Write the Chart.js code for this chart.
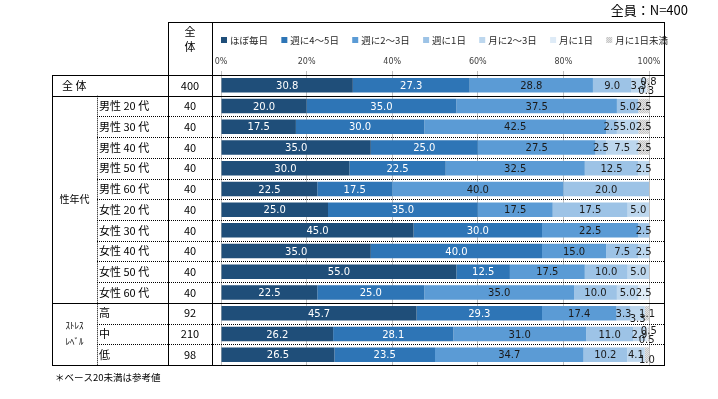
<!DOCTYPE html>
<html lang="ja">
<head>
<meta charset="utf-8">
<script src="https://cdn.jsdelivr.net/npm/chart.js@4.4.1/dist/chart.umd.min.js"></script>
<style>
  html, body { margin: 0; padding: 0; background: #fff; }
  #wrap { width: 718px; height: 399px; }
</style>
</head>
<body>
<div id="wrap"><canvas id="freqChart" width="718" height="399"></canvas></div>
<script>
// 行ラベル・n数
const categories = ['全 体', '男性 20 代', '男性 30 代', '男性 40 代', '男性 50 代', '男性 60 代',
  '女性 20 代', '女性 30 代', '女性 40 代', '女性 50 代', '女性 60 代', '高', '中', '低'];
const baseN = [400, 40, 40, 40, 40, 40, 40, 40, 40, 40, 40, 92, 210, 98];
const seriesNames = ['ほぼ毎日', '週に4～5日', '週に2～3日', '週に1日', '月に2～3日', '月に1日', '月に1日未満'];
const tickValues = [0, 20, 40, 60, 80, 100];

// 系列 (%)
const almostDaily = [30.8, 20.0, 17.5, 35.0, 30.0, 22.5, 25.0, 45.0, 35.0, 55.0, 22.5, 45.7, 26.2, 26.5];
const week4to5 = [27.3, 35.0, 30.0, 25.0, 22.5, 17.5, 35.0, 30.0, 40.0, 12.5, 25.0, 29.3, 28.1, 23.5];
const week2to3 = [28.8, 37.5, 42.5, 27.5, 32.5, 40.0, 17.5, 22.5, 15.0, 17.5, 35.0, 17.4, 31.0, 34.7];
const week1 = [9.0, 5.0, 2.5, 2.5, 12.5, 20.0, 17.5, 2.5, 7.5, 10.0, 10.0, 3.3, 11.0, 10.2];
const month2to3 = [3.3, 0, 5.0, 7.5, 2.5, 0, 5.0, 0, 2.5, 5.0, 5.0, 3.3, 2.9, 4.1];
const month1 = [0.3, 0, 0, 0, 0, 0, 0, 0, 0, 0, 2.5, 0, 0.5, 0];
const monthLess = [0.8, 2.5, 2.5, 2.5, 0, 0, 0, 0, 0, 0, 0, 1.1, 0.5, 1.0];

const seriesValues = [almostDaily, week4to5, week2to3, week1, month2to3, month1, monthLess];

// グループ
const groups = [
  { lines: ['性年代'], from: 1, to: 10, size: 10 },
  { lines: ['ｽﾄﾚｽ', 'ﾚﾍﾞﾙ'], from: 11, to: 13, size: 9 }
];

const JP = '"Noto Sans CJK JP", "Noto Sans", sans-serif';

// 月に1日未満 は網掛け
function dotPattern() {
  const c = document.createElement('canvas');
  c.width = 2; c.height = 2;
  const g = c.getContext('2d');
  g.fillStyle = '#e4e4e4'; g.fillRect(0, 0, 2, 2);
  g.fillStyle = '#c4c4c4'; g.fillRect(0, 0, 1, 1); g.fillRect(1, 1, 1, 1);
  return g.createPattern(c, 'repeat');
}

const colors = ['#1f4e79', '#2e75b6', '#5b9bd5', '#9dc3e6', '#bdd7ee', '#deebf7', dotPattern()];
const labelColors = ['#ffffff', '#ffffff', '#1a1a1a', '#1a1a1a', '#1a1a1a', '#1a1a1a', '#1a1a1a'];

// 表の枠
const X_LEFT = 52, X_SUB = 97, X_N0 = 168, X_N1 = 212, X_RIGHT = 664, Y_TOP = 22;

function hLine(ctx, x0, x1, y, dotted) {
  ctx.save();
  ctx.strokeStyle = '#000';
  ctx.lineWidth = 1;
  ctx.setLineDash(dotted ? [1, 1] : []);
  ctx.beginPath();
  ctx.moveTo(x0, Math.round(y) + 0.5);
  ctx.lineTo(x1, Math.round(y) + 0.5);
  ctx.stroke();
  ctx.restore();
}
function vLine(ctx, x, y0, y1, dotted) {
  ctx.save();
  ctx.strokeStyle = '#000';
  ctx.lineWidth = 1;
  ctx.setLineDash(dotted ? [1, 1] : []);
  ctx.beginPath();
  ctx.moveTo(Math.round(x) + 0.5, y0);
  ctx.lineTo(Math.round(x) + 0.5, y1);
  ctx.stroke();
  ctx.restore();
}

const tablePlugin = {
  id: 'tablePlugin',
  afterDraw(chart) {
    const ctx = chart.ctx;
    const y = chart.scales.y;
    const step = y.getPixelForValue(1) - y.getPixelForValue(0);
    const rowTop = i => y.getPixelForValue(i) - step / 2;
    const bottom = rowTop(categories.length);

    // 罫線
    hLine(ctx, X_N0, X_RIGHT, Y_TOP, false);
    vLine(ctx, X_N0, Y_TOP, bottom + 1, false);
    vLine(ctx, X_N1, Y_TOP, bottom + 1, false);
    vLine(ctx, X_RIGHT, Y_TOP, bottom + 1, false);
    vLine(ctx, X_LEFT, rowTop(0), bottom + 1, false);
    vLine(ctx, X_SUB, rowTop(1), bottom, true);
    for (let i = 0; i <= categories.length; i++) {
      const solid = i === 0 || i === 1 || i === 11 || i === categories.length;
      if (solid) hLine(ctx, X_LEFT, X_RIGHT, rowTop(i), false);
      else hLine(ctx, X_SUB, X_RIGHT, rowTop(i), true);
    }

    ctx.save();
    ctx.fillStyle = '#000';
    ctx.textBaseline = 'middle';

    // 見出し
    ctx.font = '11px ' + JP;
    ctx.textAlign = 'center';
    ctx.fillText('全', (X_N0 + X_N1) / 2, 32);
    ctx.fillText('体', (X_N0 + X_N1) / 2, 47);

    // 行ラベルとn数
    categories.forEach((cat, i) => {
      const cy = y.getPixelForValue(i);
      ctx.textAlign = 'left';
      ctx.font = '11px ' + JP;
      ctx.fillText(cat, i === 0 ? 62 : X_SUB + 2, cy);
      ctx.textAlign = 'center';
      ctx.fillText(String(baseN[i]), (X_N0 + X_N1) / 2, cy);
    });

    // グループ名
    groups.forEach(g => {
      const cy = (rowTop(g.from) + rowTop(g.to + 1)) / 2;
      ctx.font = g.size + 'px ' + JP;
      ctx.textAlign = 'center';
      const lh = 16;
      g.lines.forEach((t, k) => {
        ctx.fillText(t, (X_LEFT + X_SUB) / 2, cy + (k - (g.lines.length - 1) / 2) * lh);
      });
    });

    // タイトル・注記
    ctx.font = '13px ' + JP;
    ctx.textAlign = 'right';
    ctx.fillText('全員：N=400', 688, 10);
    ctx.font = '9.5px ' + JP;
    ctx.textAlign = 'left';
    ctx.fillText('＊ベース20未満は参考値', 55, 377);

    // 凡例
    ctx.font = '9.5px ' + JP;
    const ds = chart.data.datasets;
    const box = 6, gapBox = 3;
    const widths = ds.map(d => box + gapBox + ctx.measureText(d.label).width);
    const total = widths.reduce((a, b) => a + b, 0);
    const legL = 221, legR = 668;
    const gap = (legR - legL - total) / (ds.length - 1);
    let lx = legL;
    ds.forEach((d, k) => {
      ctx.fillStyle = d.backgroundColor;
      ctx.fillRect(lx, 37, box, box);
      ctx.fillStyle = '#262626';
      ctx.textAlign = 'left';
      ctx.fillText(d.label, lx + box + gapBox, 40.5);
      lx += widths[k] + gap;
    });
    ctx.restore();
  }
};

// データラベル（重なる場合は上下にずらす）
const valueLabelPlugin = {
  id: 'valueLabels',
  afterDatasetsDraw(chart) {
    const ctx = chart.ctx;
    ctx.save();
    ctx.font = '10px "DejaVu Sans", sans-serif';
    ctx.textAlign = 'center';
    ctx.textBaseline = 'middle';
    const offsets = [1, 6, -3];
    categories.forEach((c, i) => {
      const lastRight = [-Infinity, -Infinity, -Infinity];
      chart.data.datasets.forEach((d, j) => {
        const v = d.data[i];
        if (!v) return;
        const el = chart.getDatasetMeta(j).data[i];
        const cx = (el.x + el.base) / 2;
        const txt = v.toFixed(1);
        const w = ctx.measureText(txt).width;
        let line = 0;
        while (line < 2 && cx - w / 2 < lastRight[line]) line++;
        lastRight[line] = cx + w / 2;
        ctx.fillStyle = labelColors[j];
        ctx.fillText(txt, cx, el.y + offsets[line]);
      });
    });
    ctx.restore();
  }
};

const ctx = document.getElementById('freqChart');
new Chart(ctx, {
  type: 'bar',
  data: {
    labels: categories,
    datasets: seriesNames.map((name, k) => ({
      label: name,
      data: seriesValues[k],
      backgroundColor: colors[k],
      borderWidth: 0,
      barPercentage: 0.7,
      categoryPercentage: 1.0
    }))
  },
  options: {
    indexAxis: 'y',
    responsive: false,
    animation: false,
    layout: { padding: { left: 221, right: 69, top: 53, bottom: 34 } },
    plugins: {
      legend: { display: false },
      tooltip: { enabled: false }
    },
    scales: {
      x: {
        stacked: true,
        position: 'top',
        min: 0,
        max: 100,
        afterFit(scale) { scale.height = 22; },
        afterBuildTicks(scale) { scale.ticks = tickValues.map(v => ({ value: v })); },
        ticks: {
          font: { size: 8, family: '"DejaVu Sans", sans-serif' },
          color: '#404040',
          padding: 4,
          maxRotation: 0,
          callback: v => v + '%'
        },
        grid: { color: '#c0c0c0', tickLength: 4 },
        border: { color: '#c0c0c0' }
      },
      y: {
        stacked: true,
        display: false
      }
    }
  },
  plugins: [tablePlugin, valueLabelPlugin]
});
</script>
</body>
</html>
